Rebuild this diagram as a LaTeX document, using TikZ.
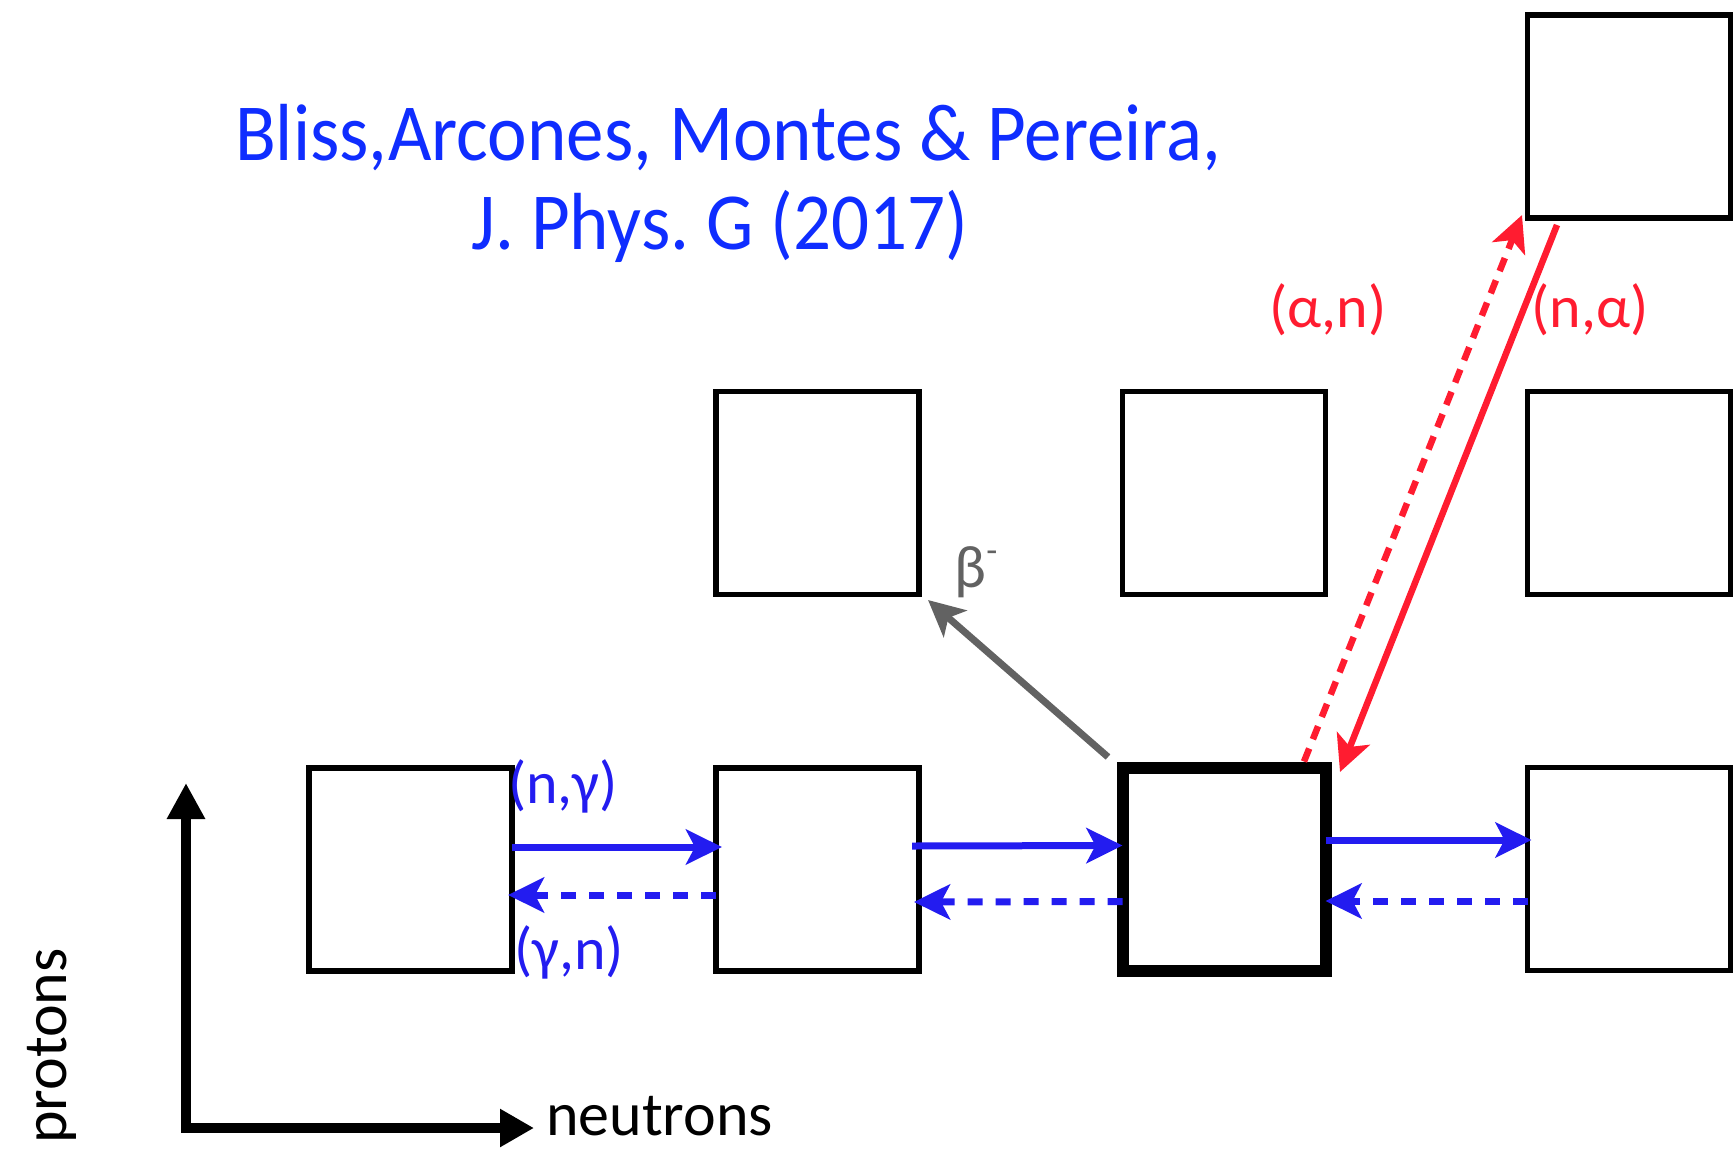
\documentclass[tikz,border=0pt]{standalone}
\usepackage{fontspec}
\usepackage{graphicx}
\setmainfont{Carlito}
\frenchspacing
\usetikzlibrary{arrows.meta}

\definecolor{titleblue}{RGB}{15,45,255}
\definecolor{rxblue}{RGB}{35,28,240}
\definecolor{rxred}{RGB}{255,28,48}
\definecolor{decaygrey}{RGB}{98,98,98}

\newcommand{\titlesize}{\fontsize{75}{90}\selectfont}
\newcommand{\lblsize}{\fontsize{60}{72}\selectfont}
\newcommand{\axsize}{\fontsize{62}{72}\selectfont}

\tikzset{
  nuc/.style={draw, line width=5.5pt, minimum size=203pt, inner sep=0pt, outer sep=0pt},
  nucthick/.style={nuc, line width=12pt},
  headtip/.tip={Stealth[length=36pt, width=35pt, inset=9pt]},
  flow/.style={line width=7pt, -headtip},
  backflow/.style={flow, dash pattern=on 15pt off 13pt},
  alphaflow/.style={line width=6.5pt, -headtip, draw=rxred},
  alphadash/.style={alphaflow, dash pattern=on 14pt off 10pt},
  decay/.style={line width=7pt, -headtip, draw=decaygrey},
  axis/.style={line width=10pt, line join=miter,
    {Triangle[length=36pt, width=36pt]}-{Triangle[length=34pt, width=36pt]}},
  lbl/.style={inner sep=0pt, outer sep=0pt, font=\lblsize}
}

\begin{document}
\begin{tikzpicture}[x=1pt, y=-1pt]
\useasboundingbox (0,0) rectangle (1733,1149);

% title
\node[anchor=base, inner sep=0pt, text=titleblue, font=\titlesize] (title1) at (728,160)
  {\scalebox{1}[1.08]{Bliss,Arcones, Montes \& Pereira,}};
\node[anchor=base, inner sep=0pt, text=titleblue, font=\titlesize] (title2) at (720,249)
  {\scalebox{1}[1.08]{J. Phys. G (2017)}};

% nuclei on the chart
\node[nuc] (b1) at (410.5,869.5) {};
\node[nuc] (b2) at (817.5,869.5) {};
\node[nucthick] (b3) at (1224,869) {};
\node[nuc] (b4) at (1629,869) {};
\node[nuc] (m1) at (817.5,493) {};
\node[nuc] (m2) at (1224,493) {};
\node[nuc] (m3) at (1629,493) {};
\node[nuc] (t1) at (1629,116.5) {};

% neutron capture and photodisintegration
\draw[flow, draw=rxblue] ([yshift=22.5pt]b1.east) -- ([xshift=6pt, yshift=22.5pt]b2.west);
\draw[backflow, draw=rxblue] ([yshift=-25.5pt]b2.west) -- ([xshift=-4pt, yshift=-25.5pt]b1.east);
\draw[flow, draw=rxblue] ([xshift=-7pt, yshift=23.5pt]b2.east) -- ([xshift=0pt, yshift=23.5pt]b3.west);
\draw[backflow, draw=rxblue] ([yshift=-32.5pt]b3.west) -- ([xshift=-5pt, yshift=-32.5pt]b2.east);
\draw[flow, draw=rxblue] ([yshift=29pt]b3.east) -- ([xshift=4pt, yshift=29pt]b4.west);
\draw[backflow, draw=rxblue] ([yshift=-32pt]b4.west) -- ([yshift=-32pt]b3.east);

% beta decay
\draw[decay] ([xshift=-14.5pt, yshift=10.5pt]b3.north west) -- ([xshift=9pt, yshift=-5.5pt]m1.south east);

% alpha reactions
\draw[alphadash] ([xshift=80pt, yshift=6pt]b3.north) -- ([xshift=-5.5pt, yshift=3pt]t1.south west);
\draw[alphaflow] ([xshift=29.5pt, yshift=-7pt]t1.south west) -- ([xshift=14.5pt, yshift=-4.5pt]b3.north east);

% reaction labels
\node[lbl, text=rxblue] (ng) at (563,786.5) {(n,γ)};
\node[lbl, text=rxblue] (gn) at (569,952) {(γ,n)};
\node[lbl, text=rxred] (an) at (1328,309.5) {(α,n)};
\node[lbl, text=rxred] (na) at (1590,309.5) {(n,α)};
\node[lbl, text=decaygrey] (bm) at (976,572)
  {β\raisebox{0.42em}{\fontsize{36}{36}\selectfont -}};

% axes
\coordinate (origin) at (186,1128);
\coordinate (ptip) at (186,783);
\coordinate (ntip) at (534,1128);
\draw[axis] (ptip) -- (origin) -- (ntip);
\node[anchor=base west, inner sep=0pt, font=\axsize] (nlabel) at (546,1135) {neutrons};
\node[anchor=base west, inner sep=0pt, font=\axsize, rotate=90] (plabel) at (66,1144) {protons};
\end{tikzpicture}
\end{document}
